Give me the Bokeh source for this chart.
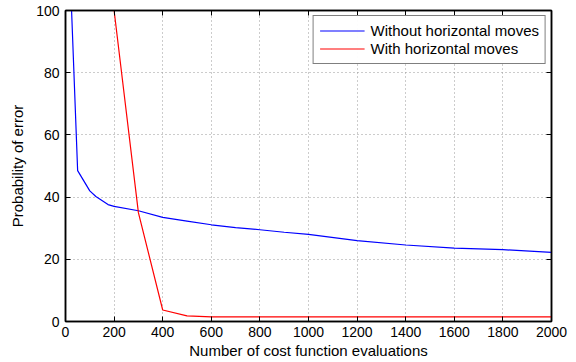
from bokeh.plotting import figure
from bokeh.models import LinearAxis, Range1d, FixedTicker, Legend, LegendItem
from bokeh.embed import file_html
from bokeh.resources import INLINE

x_without = [25, 50, 100, 125, 175, 200, 300, 400, 500, 600, 700, 800, 900, 1000, 1200, 1400, 1600, 1800, 2000]
y_without = [100, 48.5, 42, 40.2, 37.6, 37, 35.6, 33.5, 32.3, 31.1, 30.2, 29.5, 28.7, 28, 26, 24.6, 23.6, 23.1, 22.2]
x_with = [0, 200, 300, 400, 500, 600, 800, 1000, 1200, 1400, 1600, 1800, 2000]
y_with = [100, 100, 35, 3.7, 1.8, 1.5, 1.5, 1.5, 1.5, 1.5, 1.5, 1.5, 1.5]

x_ticks = [0, 200, 400, 600, 800, 1000, 1200, 1400, 1600, 1800, 2000]
y_ticks = [0, 20, 40, 60, 80, 100]

FONT = "Liberation Sans"

p = figure(width=576, height=362, output_backend="svg", toolbar_location=None,
           x_range=Range1d(0, 2000), y_range=Range1d(0, 100),
           min_border_left=65, min_border_right=25, min_border_top=10, min_border_bottom=41)
p.background_fill_color = "white"
p.border_fill_color = "white"
p.outline_line_color = "black"
p.outline_line_width = 1.5

r1 = p.line(x_without, y_without, line_color="#0000ff", line_width=1.2)
r2 = p.line(x_with, y_with, line_color="#ff0000", line_width=1.2)

for ax, ticks in ((p.xaxis[0], x_ticks), (p.yaxis[0], y_ticks)):
    ax.ticker = FixedTicker(ticks=ticks)
    ax.major_tick_in = 5
    ax.major_tick_out = 0
    ax.minor_tick_in = 0
    ax.minor_tick_out = 0
    ax.axis_line_color = "black"
    ax.axis_line_width = 1.5
    ax.major_label_text_font = FONT
    ax.major_label_text_font_size = "14px"
    ax.major_label_text_color = "black"
    ax.axis_label_text_font = FONT
    ax.axis_label_text_font_size = "15px"
    ax.axis_label_text_font_style = "normal"
    ax.axis_label_text_color = "black"

p.xaxis.axis_label = "Number of cost function evaluations"
p.yaxis.axis_label = "Probability of error"
p.xaxis.major_label_standoff = 5
p.xaxis.axis_label_standoff = 2
p.yaxis.major_label_standoff = 6
p.yaxis.axis_label_standoff = 7

for loc, ticks in (("right", y_ticks), ("above", x_ticks)):
    a = LinearAxis(ticker=FixedTicker(ticks=ticks), major_tick_in=5, major_tick_out=0,
                   minor_tick_in=0, minor_tick_out=0, major_label_text_font_size="1px",
                   major_label_text_color=None,
                   major_label_standoff=0, axis_line_color="black", axis_line_width=1.5)
    p.add_layout(a, loc)

p.xgrid.ticker = FixedTicker(ticks=x_ticks)
p.ygrid.ticker = FixedTicker(ticks=y_ticks)
p.grid.grid_line_color = "#999999"
p.grid.grid_line_dash = "1 3"
p.grid.grid_line_width = 1

legend = Legend(items=[LegendItem(label="Without horizontal moves", renderers=[r1]),
                       LegendItem(label="With horizontal moves", renderers=[r2])],
                location="top_right")
legend.label_text_font = FONT
legend.label_text_font_size = "15px"
legend.label_text_color = "black"
legend.border_line_color = "black"
legend.border_line_width = 1
legend.glyph_width = 45
legend.glyph_height = 17
legend.label_height = 17
legend.spacing = 1
legend.padding = 6
legend.margin = 5
legend.label_standoff = 6
p.add_layout(legend, "center")

open("out.html", "w").write(file_html(p, INLINE))
